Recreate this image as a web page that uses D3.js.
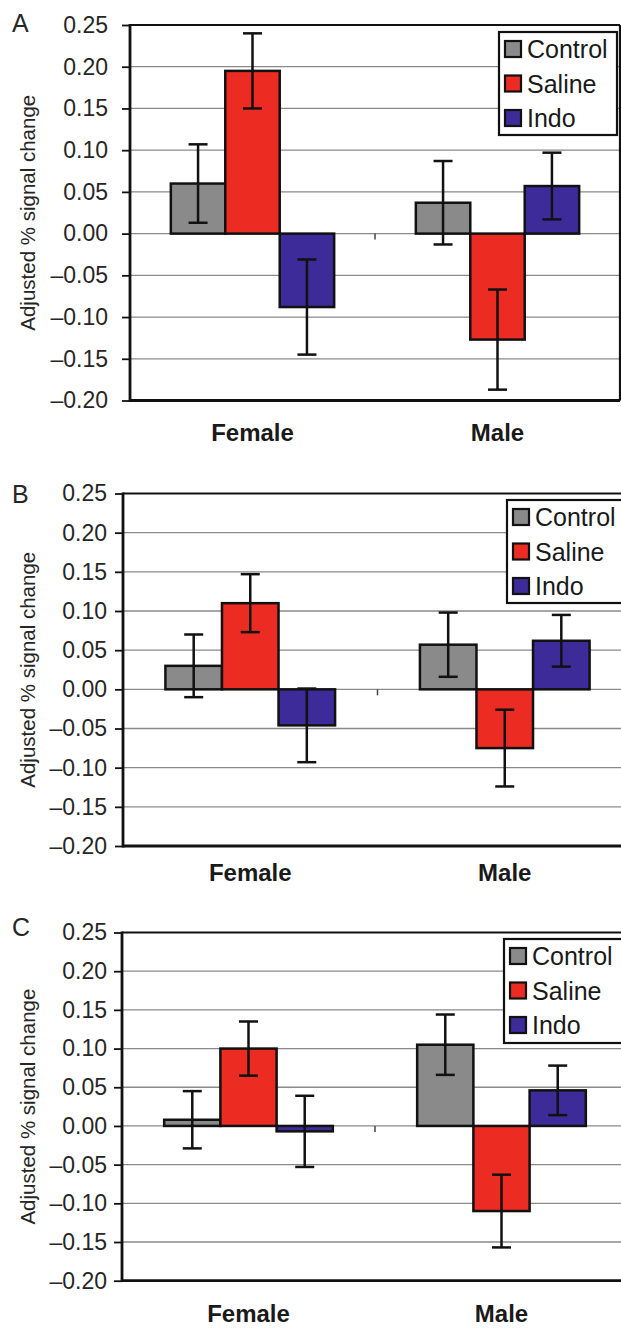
<!DOCTYPE html>
<html>
<head>
<meta charset="utf-8">
<script src="https://cdn.jsdelivr.net/npm/d3@7"></script>
<style>
  body { margin: 0; background: #fff; }
  text { font-family: "Liberation Sans", Arial, sans-serif; }
</style>
</head>
<body>
<script>
// data
const groups = ["Female", "Male"];
const series = ["Control", "Saline", "Indo"];
const seriesColors = ["#8a8a8a", "#ec2b22", "#3d2b99"];
const yTicks = [0.25, 0.20, 0.15, 0.10, 0.05, 0.00, -0.05, -0.10, -0.15, -0.20];
const yTickLabels = ["0.25", "0.20", "0.15", "0.10", "0.05", "0.00", "–0.05", "–0.10", "–0.15", "–0.20"];
const panelLetters = ["A", "B", "C"];
const yTitle = "Adjusted % signal change";

// means per group: Control, Saline, Indo
const meanA = [[0.060, 0.195, -0.088], [0.037, -0.127, 0.057]];
const errA  = [[0.047, 0.045, 0.057], [0.050, 0.060, 0.040]];
const meanB = [[0.030, 0.110, -0.046], [0.057, -0.075, 0.062]];
const errB  = [[0.040, 0.037, 0.047], [0.041, 0.049, 0.033]];
const meanC = [[0.008, 0.100, -0.007], [0.105, -0.110, 0.046]];
const errC  = [[0.037, 0.035, 0.046], [0.039, 0.047, 0.032]];

function main(){
    const svg = d3.select("body")
        .append("svg")
        .attr("width", 621)
        .attr("height", 1328)

    // layout of the three stacked panels
    const panels = [
        {means: meanA, errs: errA, left: 130, right: 620, top: 25, bottom: 400.5,
         letterY: 32, labelRight: 108, labelY: 441, legend: {x: 499, y: 32, w: 118, h: 103}},
        {means: meanB, errs: errB, left: 123, right: 632, top: 493.5, bottom: 846,
         letterY: 503, labelRight: 107, labelY: 881, legend: {x: 507, y: 500, w: 130, h: 103}},
        {means: meanC, errs: errC, left: 122, right: 628, top: 932.5, bottom: 1280.7,
         letterY: 936, labelRight: 107, labelY: 1322, legend: {x: 504, y: 939, w: 130, h: 104}}
    ];

    panels.forEach((p, k) => drawPanel(svg, p, panelLetters[k]));
}

function drawPanel(svg, p, letter){
    const g = svg.append("g")

    const y = d3.scaleLinear()
        .domain([-0.20, 0.25])
        .range([p.bottom, p.top]);
    const x = d3.scaleBand()
        .domain(groups)
        .range([p.left, p.right]);
    const xs = d3.scaleBand()
        .domain(series)
        .range([0, x.bandwidth()])
        .paddingInner(0)
        .paddingOuter(0.75);

    // gridlines
    g.append("g")
        .selectAll("line")
        .data(yTicks.slice(1))
        .enter()
        .append("line")
        .attr("x1", p.left)
        .attr("x2", p.right)
        .attr("y1", d => y(d))
        .attr("y2", d => y(d))
        .attr("stroke", "#8a8a8a")
        .attr("stroke-width", 1.3)

    // y axis ticks + labels
    const tickSize = 8;
    const yAxis = d3.axisLeft(y)
        .tickValues(yTicks)
        .tickFormat((d, i) => yTickLabels[i])
        .tickSize(tickSize)
        .tickSizeOuter(0)
        .tickPadding(p.left - p.labelRight - tickSize);
    const ya = g.append("g")
        .attr("transform", `translate(${p.left},0)`)
        .call(yAxis);
    ya.select(".domain").remove();
    ya.selectAll(".tick line").attr("stroke", "#111").attr("stroke-width", 1.8);
    ya.selectAll(".tick text")
        .attr("font-size", "23px")
        .attr("fill", "#262626")
        .style("font-family", "'Liberation Sans', Arial, sans-serif");

    // bars
    const rows = [];
    groups.forEach((grp, gi) => series.forEach((s, si) => {
        rows.push({grp: grp, s: s, si: si, v: p.means[gi][si], e: p.errs[gi][si]});
    }));

    g.append("g")
        .selectAll("rect")
        .data(rows)
        .enter()
        .append("rect")
        .attr("x", d => x(d.grp) + xs(d.s))
        .attr("y", d => y(Math.max(0, d.v)))
        .attr("width", xs.bandwidth())
        .attr("height", d => Math.abs(y(d.v) - y(0)))
        .attr("fill", d => seriesColors[d.si])
        .attr("stroke", "#111")
        .attr("stroke-width", 2.5)

    // error bars
    const cap = 9.5;
    const eb = g.append("g")
        .selectAll("g")
        .data(rows)
        .enter()
        .append("g")
        .attr("stroke", "#111")
        .attr("stroke-width", 2.5)
    const cx = d => x(d.grp) + xs(d.s) + xs.bandwidth() / 2;
    eb.append("line")
        .attr("x1", cx).attr("x2", cx)
        .attr("y1", d => y(d.v + d.e)).attr("y2", d => y(d.v - d.e))
    eb.append("line")
        .attr("x1", d => cx(d) - cap).attr("x2", d => cx(d) + cap)
        .attr("y1", d => y(d.v + d.e)).attr("y2", d => y(d.v + d.e))
    eb.append("line")
        .attr("x1", d => cx(d) - cap).attr("x2", d => cx(d) + cap)
        .attr("y1", d => y(d.v - d.e)).attr("y2", d => y(d.v - d.e))

    // category divider tick on the zero line
    g.append("line")
        .attr("x1", x("Male")).attr("x2", x("Male"))
        .attr("y1", y(0)).attr("y2", y(0) + 6)
        .attr("stroke", "#444")
        .attr("stroke-width", 1.5)

    // frame
    g.append("line").attr("x1", p.left).attr("x2", p.right).attr("y1", y(0.25)).attr("y2", y(0.25))
        .attr("stroke", "#111").attr("stroke-width", 2.2)
    g.append("line").attr("x1", p.right).attr("x2", p.right).attr("y1", y(0.25)).attr("y2", y(-0.20))
        .attr("stroke", "#111").attr("stroke-width", 2.2)
    g.append("line").attr("x1", p.left).attr("x2", p.right).attr("y1", y(-0.20)).attr("y2", y(-0.20))
        .attr("stroke", "#111").attr("stroke-width", 2.8)
    g.append("line").attr("x1", p.left).attr("x2", p.left).attr("y1", y(0.25) - 1).attr("y2", y(-0.20) + 1.4)
        .attr("stroke", "#111").attr("stroke-width", 2.8)

    // category labels
    g.append("g")
        .selectAll("text")
        .data(groups)
        .enter()
        .append("text")
        .attr("x", d => x(d) + x.bandwidth() / 2)
        .attr("y", p.labelY)
        .attr("text-anchor", "middle")
        .attr("font-size", "24px")
        .attr("font-weight", "bold")
        .attr("fill", "#1a1a1a")
        .text(d => d)

    // y title
    g.append("text")
        .attr("transform", `translate(35,${(p.top + p.bottom) / 2}) rotate(-90)`)
        .attr("text-anchor", "middle")
        .attr("font-size", "20.5px")
        .attr("fill", "#262626")
        .text(yTitle)

    // panel letter
    g.append("text")
        .attr("x", 12)
        .attr("y", p.letterY)
        .attr("font-size", "25px")
        .attr("fill", "#262626")
        .text(letter)

    // legend
    const L = p.legend;
    const lg = g.append("g").attr("transform", `translate(${L.x},${L.y})`)
    lg.append("rect")
        .attr("width", L.w)
        .attr("height", L.h)
        .attr("fill", "#fff")
        .attr("stroke", "#111")
        .attr("stroke-width", 2.2)
    const item = lg.selectAll(".item")
        .data(series)
        .enter()
        .append("g")
        .attr("class", "item")
        .attr("transform", (d, i) => `translate(0,${17 + i * 34.5})`)
    item.append("rect")
        .attr("x", 6)
        .attr("y", -8)
        .attr("width", 16)
        .attr("height", 16)
        .attr("fill", (d, i) => seriesColors[i])
        .attr("stroke", "#111")
        .attr("stroke-width", 2.2)
    item.append("text")
        .attr("x", 28)
        .attr("y", 9)
        .attr("font-size", "25px")
        .attr("fill", "#1a1a1a")
        .text(d => d)
}

main()
</script>
</body>
</html>
